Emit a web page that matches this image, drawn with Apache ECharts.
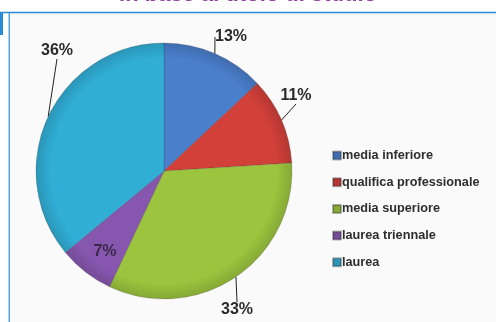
<!DOCTYPE html>
<html>
<head>
<meta charset="utf-8">
<script src="https://cdn.jsdelivr.net/npm/echarts@6/dist/echarts.min.js"></script>
<style>
  html, body { margin: 0; padding: 0; background: #ffffff; }
  #chart { width: 496px; height: 322px; }
</style>
</head>
<body>
<div id="chart"></div>
<script>
// Titolo di studio: quote percentuali
const categories = ['media inferiore', 'qualifica professionale', 'media superiore', 'laurea triennale', 'laurea'];
const percentages = [13, 11, 33, 7, 36];
const sliceColors = ['#4a7fcc', '#d2403a', '#9cc43e', '#8757b0', '#31aed6'];
const titleText = 'in base al titolo di studio';

const CX = 164, CY = 171, R = 128;

// label anchors around the pie (text centre)
const labelSpots = [[231, 37], [296, 96], [237, 310], [105, 252], [57, 51]];

function shade(hex, f) {
  const n = parseInt(hex.slice(1), 16);
  const r = Math.round(((n >> 16) & 255) * f), g = Math.round(((n >> 8) & 255) * f), b = Math.round((n & 255) * f);
  return 'rgb(' + r + ',' + g + ',' + b + ')';
}

const pieData = categories.map((name, i) => ({
  name: name,
  value: percentages[i],
  itemStyle: {
    color: {
      type: 'radial', x: CX, y: CY, r: R, global: true,
      colorStops: [
        { offset: 0, color: sliceColors[i] },
        { offset: 0.88, color: sliceColors[i] },
        { offset: 1, color: shade(sliceColors[i], 0.86) }
      ]
    }
  },
  label: i === 3 ? { color: '#3a2a4a' } : {},
  labelLine: { show: i !== 3 }
}));

const chart = echarts.init(document.getElementById('chart'), null, { renderer: 'canvas' });

chart.setOption({
  animation: false,
  backgroundColor: '#ffffff',
  title: {
    text: titleText,
    left: 'center',
    top: -21,
    textStyle: { color: '#8b3d98', fontSize: 22, fontWeight: 'bold', fontFamily: 'Liberation Sans' }
  },
  graphic: [
    { type: 'rect', shape: { x: 10, y: 13, width: 486, height: 309 }, style: { fill: '#fafafa' }, z: -10 },
    { type: 'line', shape: { x1: 0, y1: 12.5, x2: 496, y2: 12.5 }, style: { stroke: '#2b8ad6', lineWidth: 1.5 } },
    { type: 'line', shape: { x1: 9.2, y1: 12, x2: 9.2, y2: 322 }, style: { stroke: '#2b8ad6', lineWidth: 1.2 } },
    { type: 'rect', shape: { x: 0, y: 12, width: 3, height: 23 }, style: { fill: '#2b8ad6' } }
  ],
  legend: {
    orient: 'vertical',
    left: 332,
    top: 149,
    padding: 0,
    itemWidth: 8,
    itemHeight: 8,
    itemGap: 13.7,
    icon: 'rect',
    data: categories,
    textStyle: { color: '#2e2e2e', fontSize: 12.7, fontWeight: 'bold', fontFamily: 'Liberation Sans', padding: [0, 0, 0, -4] }
  },
  color: sliceColors,
  series: [{
    type: 'pie',
    center: [CX, CY],
    radius: R,
    startAngle: 90,
    clockwise: true,
    data: pieData,
    itemStyle: { borderColor: 'rgba(40,40,40,0.35)', borderWidth: 0.6 },
    label: {
      show: true,
      formatter: '{c}%',
      color: '#2a2a2a',
      fontSize: 16,
      fontWeight: 'bold',
      fontFamily: 'Liberation Sans',
      overflow: 'none',
      width: 60
    },
    labelLine: { show: true, length: 10, length2: 0, lineStyle: { color: '#222', width: 1 } },
    labelLayout: function (p) {
      const s = labelSpots[p.dataIndex];
      return { x: s[0], y: s[1], align: 'center', verticalAlign: 'middle' };
    }
  }]
});
</script>
</body>
</html>
